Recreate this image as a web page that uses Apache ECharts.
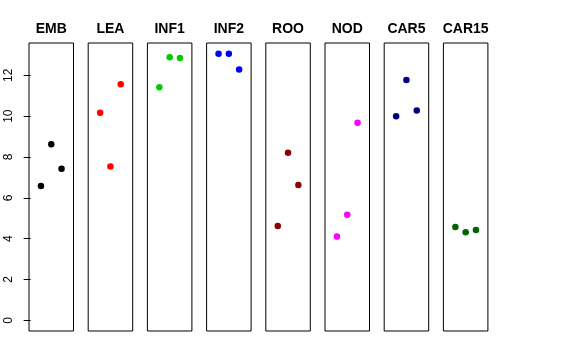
<!DOCTYPE html>
<html>
<head>
<meta charset="utf-8">
<script src="https://cdn.jsdelivr.net/npm/echarts@6/dist/echarts.min.js"></script>
<style>
html,body{margin:0;padding:0;background:#fff;}
#chart{width:576px;height:360px;}
</style>
</head>
<body>
<div id="chart"></div>
<script>
// ---- data ----
const categories = ["EMB", "LEA", "INF1", "INF2", "ROO", "NOD", "CAR5", "CAR15"];
const xPositions = [1, 2, 3];
const valEMB   = [6.58, 8.62, 7.42];
const valLEA   = [10.17, 7.54, 11.56];
const valINF1  = [11.41, 12.89, 12.85];
const valINF2  = [13.06, 13.06, 12.29];
const valROO   = [4.62, 8.21, 6.63];
const valNOD   = [4.11, 5.17, 9.68];
const valCAR5  = [10.00, 11.77, 10.28];
const valCAR15 = [4.57, 4.32, 4.42];
const colors = ["#000000", "#FF0000", "#00CD00", "#0000FF", "#8B0000", "#FF00FF", "#000080", "#006400"];
const yTicks = [0, 2, 4, 6, 8, 10, 12];

const allVals = [valEMB, valLEA, valINF1, valINF2, valROO, valNOD, valCAR5, valCAR15];

// R-style 4% axis extension
const yLo = 0, yHi = Math.max(...allVals.flat());
const yPad = (yHi - yLo) * 0.04;
const xLo = 0, xHi = 4, xPad = (xHi - xLo) * 0.04;

const panelLeft0 = 29, panelPitch = 59.2, panelW = 44.5, panelTop = 43, panelH = 288;

const grids = [], xAxes = [], yAxes = [], series = [];
categories.forEach((cat, i) => {
  const left = panelLeft0 + i * panelPitch;
  grids.push({
    left: left, top: panelTop, width: panelW, height: panelH,
    show: true, borderColor: '#000', borderWidth: 1, backgroundColor: 'transparent',
    containLabel: false
  });
  xAxes.push({
    type: 'value', gridIndex: i, min: xLo - xPad, max: xHi + xPad, show: false
  });
  const first = i === 0;
  yAxes.push({
    type: 'value', gridIndex: i, min: yLo - yPad, max: yHi + yPad,
    show: first,
    splitLine: { show: false },
    axisLine: { show: false },
    axisTick: { show: first, customValues: yTicks, length: 7, inside: false, lineStyle: { color: '#000' } },
    axisLabel: {
      show: first, customValues: yTicks, rotate: 90, fontSize: 12, color: '#000',
      fontFamily: 'Liberation Sans, Arial, sans-serif', margin: 14
    }
  });
  series.push({
    type: 'scatter', xAxisIndex: i, yAxisIndex: i,
    data: xPositions.map((x, k) => [x, allVals[i][k]]),
    symbol: 'circle', symbolSize: 6.5,
    itemStyle: { color: colors[i], opacity: 1 },
    silent: true
  });
});

const graphicEls = categories.map((cat, i) => ({
  type: 'text',
  x: panelLeft0 + i * panelPitch + panelW / 2,
  y: 29,
  style: {
    text: cat, fill: '#000', font: 'bold 14px "Liberation Sans", Arial, sans-serif',
    align: 'center', verticalAlign: 'middle'
  }
}));

const chart = echarts.init(document.getElementById('chart'), null, { renderer: 'canvas' });
chart.setOption({
  animation: false,
  backgroundColor: '#fff',
  grid: grids,
  xAxis: xAxes,
  yAxis: yAxes,
  series: series,
  graphic: graphicEls
});
</script>
</body>
</html>
